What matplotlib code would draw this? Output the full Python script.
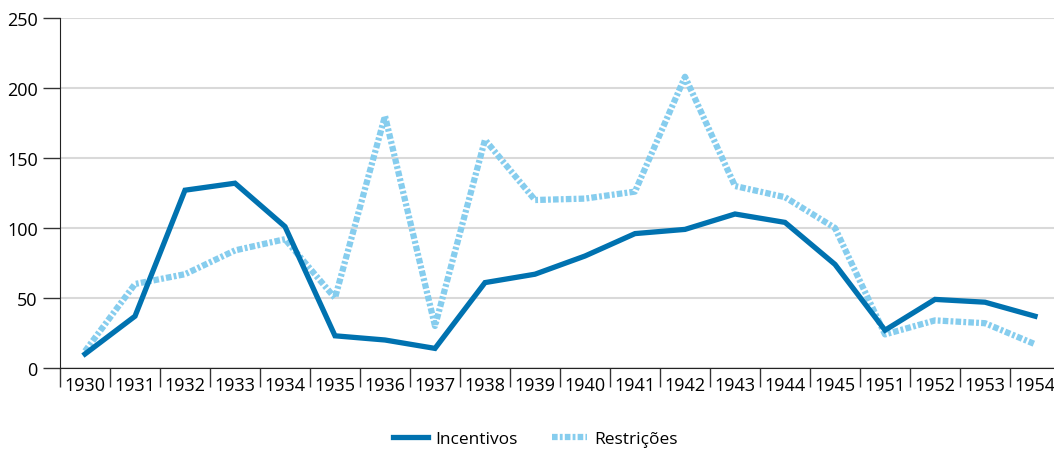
import matplotlib
matplotlib.use('Agg')
import matplotlib.pyplot as plt
import numpy as np

years = ['1930', '1931', '1932', '1933', '1934', '1935', '1936', '1937', '1938', '1939',
         '1940', '1941', '1942', '1943', '1944', '1945', '1951', '1952', '1953', '1954']
incentivos = [10, 37, 127, 132, 101, 23, 20, 14, 61, 67, 80, 96, 99, 110, 104, 74, 27, 49, 47, 37]
restricoes = [12, 60, 67, 84, 92, 50, 180, 30, 163, 120, 121, 126, 208, 130, 122, 100, 24, 34, 32, 17]

plt.rcParams['font.family'] = ['Open Sans', 'DejaVu Sans']

fig = plt.figure(figsize=(10.54, 4.6), dpi=100)
ax = fig.add_axes([60 / 1054, 91 / 460, 1000 / 1054, 350 / 460])

x = np.arange(len(years))
ax.plot(x, incentivos, color='#0072b0', lw=3.8, solid_joinstyle='miter', label='Incentivos', zorder=3)
ax.plot(x, restricoes, color='#86cdee', lw=4.5, dashes=(0.9, 0.35, 0.45, 0.35), label='Restrições', zorder=2)

ax.set_xlim(-0.5, len(years) - 0.5)
ax.set_ylim(0, 250)
ax.set_yticks(np.arange(0, 251, 50))
ax.yaxis.grid(True, color='#d9d9d9', lw=1.5)
ax.set_axisbelow(True)

ax.set_xticks(np.arange(-0.5, len(years), 1))
ax.set_xticklabels([])
ax.set_xticks(x, minor=True)
ax.set_xticklabels(years, minor=True)
ax.tick_params(axis='x', which='major', length=14, width=1, color='#333333')
ax.tick_params(axis='x', which='minor', length=0, pad=6, labelsize=13)
ax.tick_params(axis='y', length=12, width=1, color='#333333', labelsize=13, pad=4)

for s in ['top', 'right']:
    ax.spines[s].set_visible(False)
ax.spines['left'].set_color('#222222')
ax.spines['bottom'].set_color('#222222')

fig.legend(loc='lower center', bbox_to_anchor=(0.508, -0.008), ncol=2, frameon=False,
           fontsize=12.5, handlelength=2.0, handletextpad=0.4, columnspacing=2.0)

fig.savefig('out.png', dpi=100)
